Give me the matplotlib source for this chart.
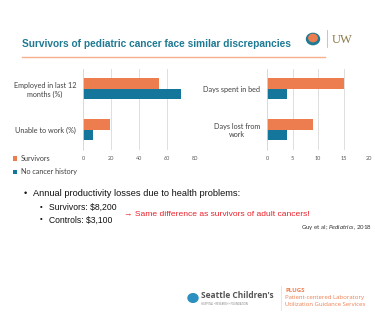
import matplotlib.pyplot as plt
from matplotlib.patches import Circle

# chart data
left_cats = ['Unable to work (%)', 'Employed in last 12\nmonths (%)']
left_survivors = [19, 54]
left_controls = [7, 70]
left_ticks = [0, 20, 40, 60, 80]

right_cats = ['Days lost from\nwork', 'Days spent in bed']
right_survivors = [9, 15]
right_controls = [4, 4]
right_ticks = [0, 5, 10, 15, 20]

series_names = ['Survivors', 'No cancer history']

ORANGE = '#ED7D4E'
TEAL = '#13769A'
TITLE_TEAL = '#1F7A93'
W, H = 375, 325

plt.rcParams['mathtext.fontset'] = 'custom'
plt.rcParams['mathtext.rm'] = 'Lato'
plt.rcParams['mathtext.it'] = 'Lato:italic'


def px_axes(fig, x0, y0, x1, y1):
    # pixel box (top-left origin) -> figure axes
    return fig.add_axes([x0 / W, 1 - y1 / H, (x1 - x0) / W, (y1 - y0) / H])


def draw_bars(ax, cats, surv, ctrl, ticks):
    pos = list(range(len(cats)))
    h = 0.256
    ax.barh([p + h / 2 for p in pos], surv, height=h, color=ORANGE, label=series_names[0])
    ax.barh([p - h / 2 for p in pos], ctrl, height=h, color=TEAL, label=series_names[1])
    ax.set_ylim(-0.5, len(cats) - 0.5)
    ax.set_xlim(ticks[0], ticks[-1])
    ax.set_xticks(ticks)
    ax.set_yticks(pos)
    ax.set_yticklabels(cats, fontsize=5.2, color='#404040', family='Lato',
                       multialignment='center')
    ax.tick_params(axis='x', labelsize=4, colors='#595959', length=0, pad=4)
    ax.tick_params(axis='y', length=0, pad=5)
    ax.grid(axis='x', color='#D9D9D9', linewidth=0.6)
    ax.set_axisbelow(True)
    for s in ['top', 'right', 'bottom']:
        ax.spines[s].set_visible(False)
    ax.spines['left'].set_color('#D9D9D9')
    ax.spines['left'].set_linewidth(0.6)
    for lbl in ax.get_xticklabels():
        lbl.set_family('Lato')


fig = plt.figure(figsize=(3.75, 3.25), dpi=100)

# title and rule
fig.text(22 / W, 1 - 44 / H, 'Survivors of pediatric cancer face similar discrepancies',
         fontsize=7.3, fontweight='bold', color=TITLE_TEAL, family='Liberation Sans',
         va='center')
fig.add_artist(plt.Line2D([22 / W, 325 / W], [1 - 57 / H, 1 - 57 / H],
                          color='#F7B08E', linewidth=1))

# logos (approximate)
fig.add_artist(Circle((313 / W, 1 - 39 / H), 6.5 / W, transform=fig.transFigure,
                      color='#1F7A93'))
fig.add_artist(Circle((313 / W, 1 - 38 / H), 4.2 / W, transform=fig.transFigure,
                      color=ORANGE))
fig.add_artist(plt.Line2D([327 / W, 327 / W], [1 - 30 / H, 1 - 47 / H],
                          color='#BBBBBB', linewidth=0.6))
fig.text(332 / W, 1 - 40 / H, 'UW', fontsize=9, color='#8C7A4B',
         family='Liberation Serif', va='center')

axl = px_axes(fig, 83, 68.5, 195, 150)
draw_bars(axl, left_cats, left_survivors, left_controls, left_ticks)
axr = px_axes(fig, 267, 68.5, 369, 150)
draw_bars(axr, right_cats, right_survivors, right_controls, right_ticks)

handles, labels = axl.get_legend_handles_labels()
fig.legend(handles, labels, loc='upper left', bbox_to_anchor=(10 / W, 1 - 152 / H),
           frameon=False, prop={'family': 'Lato', 'size': 5.2}, labelcolor='#404040',
           handlelength=0.6, handleheight=0.6, handletextpad=0.5, labelspacing=0.9,
           borderaxespad=0)

# bullet text
txt = dict(family='Liberation Sans', color='#111111', va='center')
fig.text(24 / W, 1 - 194 / H, '•', fontsize=6.5, **txt)
fig.text(33 / W, 1 - 194 / H, 'Annual productivity losses due to health problems:',
         fontsize=6.7, **txt)
fig.text(40 / W, 1 - 207 / H, '•', fontsize=5.5, **txt)
fig.text(49 / W, 1 - 207 / H, 'Survivors: $8,200', fontsize=6.2, **txt)
fig.text(40 / W, 1 - 220 / H, '•', fontsize=5.5, **txt)
fig.text(49 / W, 1 - 220 / H, 'Controls: $3,100', fontsize=6.2, **txt)
fig.text(124 / W, 1 - 214 / H, '\u2192 Same difference as survivors of adult cancers!',
         fontsize=6.1, color='#E8212A', family='Liberation Sans', va='center')
fig.text(372 / W, 1 - 227 / H, 'Guy et al; $\\mathit{Pediatrics}$, 2018', fontsize=4.4,
         color='#333333', family='Lato', ha='right', va='center')

# footer logos
fig.add_artist(Circle((193 / W, 1 - 298 / H), 5 / W, transform=fig.transFigure,
                      color='#2B8FC0'))
fig.text(201 / W, 1 - 296 / H, "Seattle Children's", fontsize=6, color='#555555',
         family='Open Sans', va='center', fontweight='bold')
fig.text(201 / W, 1 - 304 / H, 'HOSPITAL \u2022 RESEARCH \u2022 FOUNDATION', fontsize=1.9,
         color='#777777', family='Open Sans', va='center')
fig.add_artist(plt.Line2D([281 / W, 281 / W], [1 - 286 / H, 1 - 310 / H],
                          color='#DDDDDD', linewidth=0.5))
fig.text(285 / W, 1 - 290 / H, 'PLUGS', fontsize=4.4, color=ORANGE, fontweight='bold',
         family='Open Sans', va='center')
fig.text(285 / W, 1 - 297 / H, 'Patient-centered Laboratory', fontsize=4.3, color=ORANGE,
         family='Open Sans', va='center')
fig.text(285 / W, 1 - 304 / H, 'Utilization Guidance Services', fontsize=4.3,
         color=ORANGE, family='Open Sans', va='center')

fig.savefig('out.png', dpi=100)
